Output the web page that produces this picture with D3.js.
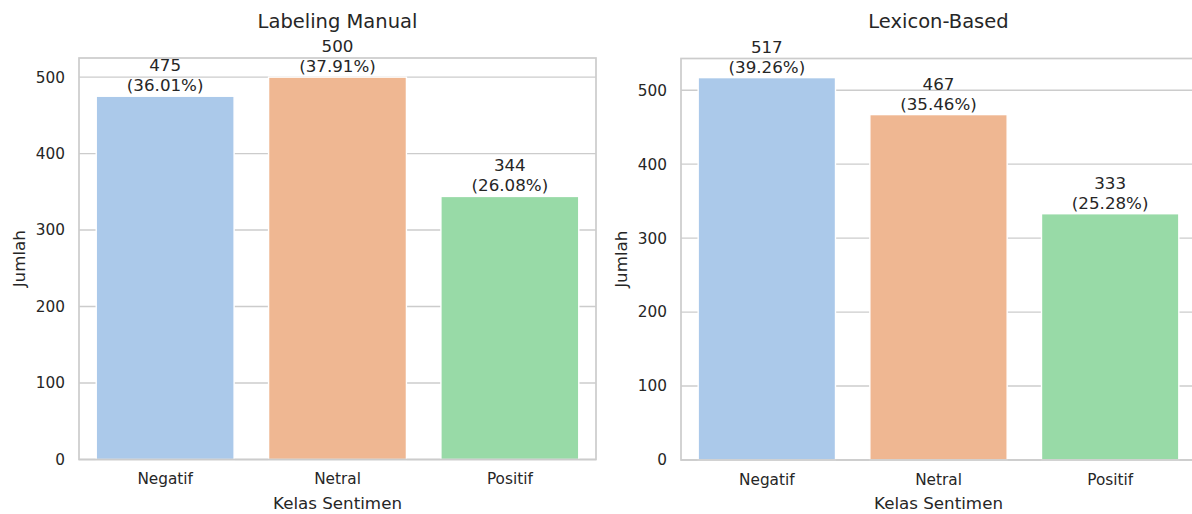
<!DOCTYPE html>
<html>
<head>
<meta charset="utf-8">
<script src="https://cdn.jsdelivr.net/npm/d3@7/dist/d3.min.js"></script>
<style>
  html, body { margin: 0; padding: 0; background: #ffffff; }
  svg { display: block; }
  text { font-family: "DejaVu Sans", sans-serif; fill: #262626; }
</style>
</head>
<body>
<svg id="chart" width="1192" height="514"></svg>
<script>
// ---- data ----
const categories = ["Negatif", "Netral", "Positif"];
const manualValues = [475, 500, 344];
const lexiconValues = [517, 467, 333];
const panelTitles = ["Labeling Manual", "Lexicon-Based"];
const yTicks = [0, 100, 200, 300, 400, 500];
const barColors = ["#abc9ea", "#efb792", "#98daa7"];
const xAxisLabel = "Kelas Sentimen";
const yAxisLabel = "Jumlah";

const svg = d3.select("#chart");
svg.append("rect").attr("width", 1192).attr("height", 514).attr("fill", "#ffffff");

const panels = [
  { title: panelTitles[0], values: manualValues, x0: 79, x1: 596, y0: 459.5, y1: 58 },
  { title: panelTitles[1], values: lexiconValues, x0: 681, x1: 1196, y0: 460, y1: 58.5 }
];

panels.forEach(p => {
  const g = svg.append("g");
  const total = d3.sum(p.values);
  const ymax = d3.max(p.values) * 1.05;

  const x = d3.scaleBand().domain(categories).range([p.x0, p.x1])
    .paddingInner(0.2).paddingOuter(0.1);
  const y = d3.scaleLinear().domain([0, ymax]).range([p.y0, p.y1]);

  // grid lines
  g.append("g").selectAll("line").data(yTicks).join("line")
    .attr("x1", p.x0).attr("x2", p.x1)
    .attr("y1", d => y(d)).attr("y2", d => y(d))
    .attr("stroke", "#cccccc").attr("stroke-width", 1.4);

  // y axis tick labels
  const yAxis = d3.axisLeft(y).tickValues(yTicks).tickSize(0).tickPadding(14)
    .tickFormat(d3.format("d"));
  const ya = g.append("g").attr("transform", `translate(${p.x0},0)`).call(yAxis);
  ya.select(".domain").remove();
  ya.selectAll("text").style("font-family", "DejaVu Sans").style("font-size", "15.3px")
    .attr("fill", "#262626");

  // x axis tick labels
  const xAxis = d3.axisBottom(x).tickSize(0).tickPadding(14);
  const xa = g.append("g").attr("transform", `translate(0,${p.y0})`).call(xAxis);
  xa.select(".domain").remove();
  xa.selectAll("text").style("font-family", "DejaVu Sans").style("font-size", "15.3px")
    .attr("fill", "#262626");

  // bars
  g.append("g").selectAll("rect").data(p.values).join("rect")
    .attr("x", (d, i) => x(categories[i]))
    .attr("width", x.bandwidth())
    .attr("y", d => y(d))
    .attr("height", d => y(0) - y(d))
    .attr("fill", (d, i) => barColors[i])
    .attr("stroke", "#ffffff").attr("stroke-width", 1.4);

  // spines
  g.append("rect")
    .attr("x", p.x0).attr("y", p.y1)
    .attr("width", p.x1 - p.x0).attr("height", p.y0 - p.y1)
    .attr("fill", "none").attr("stroke", "#cccccc").attr("stroke-width", 1.7);

  // annotations
  const ann = g.append("g").selectAll("text").data(p.values).join("text")
    .attr("text-anchor", "middle")
    .style("font-size", "16.7px");
  ann.append("tspan")
    .attr("x", (d, i) => x(categories[i]) + x.bandwidth() / 2)
    .attr("y", d => y(d) - 5 - 20)
    .text(d => d);
  ann.append("tspan")
    .attr("x", (d, i) => x(categories[i]) + x.bandwidth() / 2)
    .attr("y", d => y(d) - 5)
    .text(d => "(" + (d / total * 100).toFixed(2) + "%)");

  // title
  g.append("text")
    .attr("x", (p.x0 + p.x1) / 2).attr("y", 28)
    .attr("text-anchor", "middle").style("font-size", "19.5px")
    .text(p.title);

  // x label
  g.append("text")
    .attr("x", (p.x0 + p.x1) / 2).attr("y", 509.3)
    .attr("text-anchor", "middle").style("font-size", "16.7px")
    .text(xAxisLabel);

  // y label
  const cy = (p.y0 + p.y1) / 2;
  const lx = p.x0 - 54;
  g.append("text")
    .attr("transform", `translate(${lx},${cy}) rotate(-90)`)
    .attr("text-anchor", "middle").style("font-size", "16.7px")
    .text(yAxisLabel);
});
</script>
</body>
</html>
